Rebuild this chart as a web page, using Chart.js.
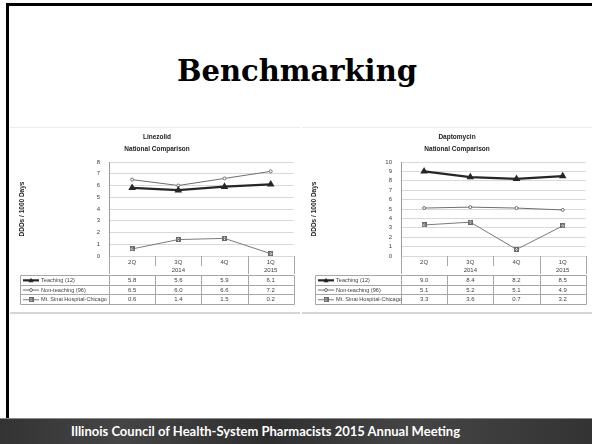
<!DOCTYPE html>
<html>
<head>
<meta charset="utf-8">
<script src="https://cdn.jsdelivr.net/npm/chart.js@4/dist/chart.umd.min.js"></script>
<style>
  html, body { margin: 0; padding: 0; background: #fff; }
  #slide { position: relative; width: 592px; height: 444px; overflow: hidden; background: #fff; }
  #frameTop { position: absolute; left: 6px; top: 3px; width: 586px; height: 3px; background: #000; }
  #frameLeft { position: absolute; left: 6px; top: 3px; width: 3px; height: 415px; background: #000; }
  #heading { position: absolute; left: 0; width: 594px; top: 54px; text-align: center;
             font-family: "DejaVu Serif", serif; font-weight: bold; font-size: 29px; color: #000; }
  .panel { position: absolute; top: 127px; width: 290px; height: 184px; background: #fff;
           border-top: 1px solid #ececec; border-bottom: 2px solid #d6d6d6; box-sizing: content-box; }
  #panelL { left: 10px; }
  #panelR { left: 302px; }
  #footer { position: absolute; left: 0; top: 418px; width: 592px; height: 26px;
            border-top: 1px solid #8a8a8a; box-sizing: border-box;
            background: linear-gradient(90deg, #333 0%, #454545 20%, #2f2f2f 45%, #454545 70%, #333 100%);
            color: #fff; text-align: center; font-family: Lato, sans-serif; font-weight: bold;
            font-size: 13px; line-height: 25px; padding-right: 61px; }
</style>
</head>
<body>
<div id="slide">
  <div id="frameTop"></div>
  <div id="frameLeft"></div>
  <div id="heading">Benchmarking</div>
  <div class="panel" id="panelL"><canvas id="chartL" width="290" height="184"></canvas></div>
  <div class="panel" id="panelR"><canvas id="chartR" width="290" height="184"></canvas></div>
  <div id="footer">Illinois Council of Health-System Pharmacists 2015 Annual Meeting</div>
</div>
<script>
// Quarter categories and their year groups
const quarters = ['2Q', '3Q', '4Q', '1Q'];
const yearLabels = ['2014', '2015'];
const yearSpans = [3, 1];
const seriesNames = ['Teaching (12)', 'Non-teaching (96)', 'Mt. Sinai Hospital-Chicago'];

// Linezolid, DDDs per 1000 days
const linezolidTeaching = [5.8, 5.6, 5.9, 6.1];
const linezolidNonTeaching = [6.5, 6.0, 6.6, 7.2];
const linezolidMtSinai = [0.6, 1.4, 1.5, 0.2];

// Daptomycin, DDDs per 1000 days
const daptomycinTeaching = [9.0, 8.4, 8.2, 8.5];
const daptomycinNonTeaching = [5.1, 5.2, 5.1, 4.9];
const daptomycinMtSinai = [3.3, 3.6, 0.7, 3.2];

const yAxisTitle = 'DDDs / 1000 Days';
const TXT = '#404040';
const GRID = '#d9d9d9';
const RULE = '#a6a6a6';
const FONT = '"Liberation Sans", Arial, sans-serif';

// square marker with a diagonal cross, used for the hospital series
function crossBox(size, color) {
  const c = document.createElement('canvas');
  c.width = size; c.height = size;
  const g = c.getContext('2d');
  g.strokeStyle = color; g.lineWidth = 1;
  g.strokeRect(0.5, 0.5, size - 1, size - 1);
  g.beginPath();
  g.moveTo(1, 1); g.lineTo(size - 1, size - 1);
  g.moveTo(size - 1, 1); g.lineTo(1, size - 1);
  g.stroke();
  return c;
}
const boxMarker = crossBox(5, '#6a6a6a');

const seriesStyles = [
  { borderColor: '#262626', borderWidth: 2.2, pointStyle: 'triangle', pointRadius: 2.2, pointBackgroundColor: '#262626', pointBorderColor: '#262626' },
  { borderColor: '#6e6e6e', borderWidth: 1, pointStyle: 'circle', pointRadius: 1.5, pointBackgroundColor: '#fff', pointBorderColor: '#6e6e6e' },
  { borderColor: '#7a7a7a', borderWidth: 1, pointStyle: boxMarker, pointRadius: 2.5, pointBackgroundColor: '#fff', pointBorderColor: '#707070' }
];

// Draws the chart title, the two-level category axis and the data table under the plot
const tablePlugin = {
  id: 'dataTable',
  afterDraw(chart, args, opts) {
    const { ctx, chartArea: a, scales: { x } } = chart;
    const n = quarters.length;
    const cw = (a.right - a.left) / n;
    const catTop = a.bottom, catBot = a.bottom + 18;
    const tTop = catBot + 1, rowH = 9.7;
    const tLeft = opts.tableLeft;
    const px = v => Math.round(v) + 0.5;

    ctx.save();
    // title
    ctx.fillStyle = '#222';
    ctx.font = 'bold 6.5px ' + FONT;
    ctx.textAlign = 'center';
    ctx.textBaseline = 'middle';
    ctx.fillText(opts.title[0], opts.titleX, 9);
    ctx.fillText(opts.title[1], opts.titleX, 21);

    ctx.strokeStyle = RULE;
    ctx.lineWidth = 1;
    // category block
    ctx.beginPath();
    ctx.moveTo(px(a.left), catTop); ctx.lineTo(px(a.left), catBot);
    ctx.moveTo(px(a.right), catTop); ctx.lineTo(px(a.right), catBot);
    let k = 0;
    for (let g = 0; g < yearSpans.length; g++) {
      for (let s = 1; s < yearSpans[g]; s++) {
        const xx = px(a.left + (k + s) * cw);
        ctx.moveTo(xx, catTop); ctx.lineTo(xx, catTop + 10);
      }
      k += yearSpans[g];
      if (k < n) {
        const xx = px(a.left + k * cw);
        ctx.moveTo(xx, catTop); ctx.lineTo(xx, catBot);
      }
    }
    ctx.stroke();

    ctx.fillStyle = TXT;
    ctx.font = '6px ' + FONT;
    quarters.forEach((q, i) => ctx.fillText(q, x.getPixelForValue(i), catTop + 6));
    k = 0;
    yearLabels.forEach((y, g) => {
      const cx = a.left + (k + yearSpans[g] / 2) * cw;
      ctx.fillText(y, cx, catTop + 14);
      k += yearSpans[g];
    });

    // data table grid
    const tBot = tTop + 3 * rowH;
    ctx.beginPath();
    ctx.rect(px(tLeft), px(tTop), Math.round(a.right) - Math.round(tLeft), Math.round(tBot) - Math.round(tTop));
    for (let r = 1; r < 3; r++) {
      ctx.moveTo(tLeft, px(tTop + r * rowH)); ctx.lineTo(a.right, px(tTop + r * rowH));
    }
    for (let i = 0; i < n; i++) {
      const xx = px(a.left + i * cw);
      ctx.moveTo(xx, tTop); ctx.lineTo(xx, tBot);
    }
    ctx.stroke();

    chart.data.datasets.forEach((ds, r) => {
      const cy = tTop + r * rowH + rowH / 2 + 0.5;
      // legend key
      const st = seriesStyles[r];
      ctx.strokeStyle = st.borderColor;
      ctx.lineWidth = st.borderWidth;
      ctx.beginPath();
      ctx.moveTo(tLeft + 3, cy); ctx.lineTo(tLeft + 19, cy);
      ctx.stroke();
      if (st.pointStyle === 'triangle') {
        ctx.fillStyle = st.pointBackgroundColor;
        ctx.beginPath();
        ctx.moveTo(tLeft + 11, cy - 2.5); ctx.lineTo(tLeft + 13.5, cy + 1.8); ctx.lineTo(tLeft + 8.5, cy + 1.8);
        ctx.closePath(); ctx.fill();
      } else if (st.pointStyle === 'circle') {
        ctx.fillStyle = '#fff'; ctx.lineWidth = 1;
        ctx.beginPath(); ctx.arc(tLeft + 11, cy, 1.5, 0, Math.PI * 2); ctx.fill(); ctx.stroke();
      } else {
        ctx.drawImage(boxMarker, tLeft + 8.5, cy - 2.5);
      }
      ctx.fillStyle = TXT;
      ctx.font = '5.6px ' + FONT;
      ctx.textAlign = 'left';
      ctx.fillText(ds.label, tLeft + 21, cy);
      ctx.font = '6px ' + FONT;
      ctx.textAlign = 'center';
      ds.data.forEach((v, i) => ctx.fillText(v.toFixed(1), x.getPixelForValue(i), cy));
    });
    ctx.restore();
  }
};

function makeChart(id, series, yMax, tableLeft, titleLines, titleX, padRight) {
  return new Chart(document.getElementById(id), {
    type: 'line',
    data: {
      labels: quarters,
      datasets: series.map((d, i) => Object.assign({ label: seriesNames[i], data: d, tension: 0, fill: false }, seriesStyles[i]))
    },
    options: {
      responsive: false,
      animation: false,
      devicePixelRatio: 1,
      layout: { padding: { top: 34, bottom: 56, right: padRight, left: 0 } },
      plugins: {
        legend: { display: false },
        tooltip: { enabled: false },
        dataTable: { tableLeft: tableLeft, title: titleLines, titleX: titleX }
      },
      scales: {
        x: { display: false, offset: true },
        y: {
          min: 0, max: yMax,
          afterFit(scale) { scale.width = 99; },
          ticks: { stepSize: 1, autoSkip: false, color: TXT, font: { family: FONT, size: 6 }, padding: 9 },
          grid: { color: GRID, drawTicks: false },
          border: { display: true, color: '#9a9a9a' },
          title: { display: true, text: yAxisTitle, color: '#222', font: { family: FONT, size: 6.5, weight: 'bold' }, padding: { top: 8, bottom: 0 } }
        }
      }
    },
    plugins: [tablePlugin]
  });
}

makeChart('chartL', [linezolidTeaching, linezolidNonTeaching, linezolidMtSinai], 8, 10,
  ['Linezolid', 'National Comparison'], 147, 5);
makeChart('chartR', [daptomycinTeaching, daptomycinNonTeaching, daptomycinMtSinai], 10, 13,
  ['Daptomycin', 'National Comparison'], 155, 2);
</script>
</body>
</html>
